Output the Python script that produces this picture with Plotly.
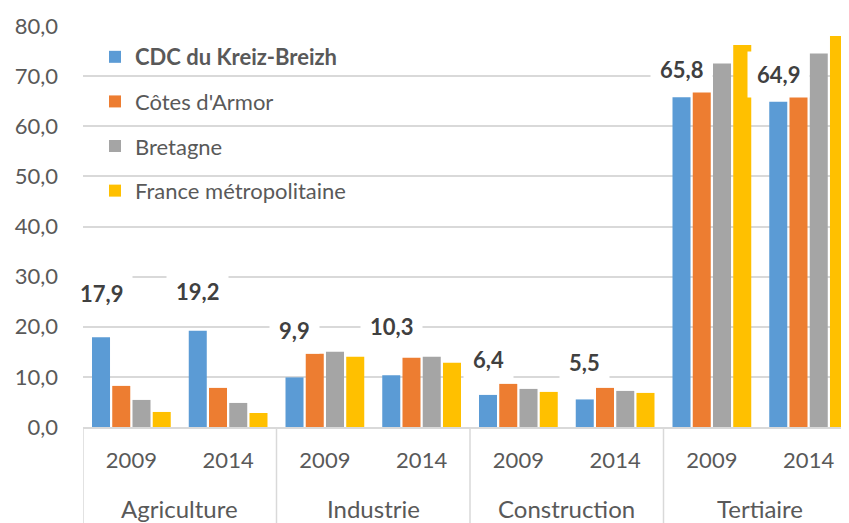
import plotly.graph_objects as go

sectors = ["Agriculture", "Industrie", "Construction", "Tertiaire"]
years = ["2009", "2014"]
series_names = ["CDC du Kreiz-Breizh", "Côtes d'Armor", "Bretagne", "France métropolitaine"]
cdc = [17.9, 19.2, 9.9, 10.3, 6.4, 5.5, 65.8, 64.9]
cotes = [8.2, 7.8, 14.6, 13.8, 8.6, 7.8, 67.3, 66.6]
bretagne = [5.4, 4.8, 15.0, 14.0, 7.6, 7.2, 72.5, 74.5]
france = [3.0, 2.8, 14.0, 12.8, 7.0, 6.8, 76.2, 78.0]
y_ticks = [0, 10, 20, 30, 40, 50, 60, 70, 80]

# styling (not data)
colors = ["#5b9bd5", "#ed7d31", "#a5a5a5", "#ffc000"]
label_lift_px = [44, 39, 47, 49, 35, 37, 28, 27]
FONT = "Lato"
TEXT = "#595959"
GRID = "#d9d9d9"
BARGAP = 0.163

# x categories: one per (sector, year), labelled by the year
x_keys = [f"{s} {y}" for s in sectors for y in years]
x_ticktext = [y for _ in sectors for y in years]
n_years = len(years)

fig = go.Figure()
for i, (name, vals) in enumerate(zip(series_names, [cdc, cotes, bretagne, france])):
    fig.add_trace(go.Bar(
        x=x_keys, y=vals,
        name=f"<b>{name}</b>" if i == 0 else name,
        legendgroup=f"g{i}",
        marker=dict(color=colors[i], line=dict(width=0)),
    ))

n_series = 4
slot = (1 - BARGAP) / n_series
first_offset = -(1 - BARGAP) / 2 + slot / 2

annotations = []
for k, v in enumerate(cdc):
    annotations.append(dict(
        x=k + first_offset, y=v, xref="x", yref="y",
        text="<b>" + f"{v:.1f}".replace(".", ",") + "</b>",
        showarrow=False, yanchor="middle", xanchor="center",
        yshift=label_lift_px[k],
        bgcolor="white", borderpad=9,
        font=dict(family=FONT, size=22, color="#404040"),
    ))

# sector (outer level) labels and dividers of the category axis
shapes = []
for j, s in enumerate(sectors):
    centre = j * n_years + (n_years - 1) / 2
    annotations.append(dict(
        x=centre, y=0, xref="x", yref="paper",
        text=s, showarrow=False, yanchor="middle", xanchor="center",
        yshift=-81,
        font=dict(family=FONT, size=24, color=TEXT),
    ))
for j in range(len(sectors) + 1):
    xb = j * n_years - 0.5
    shapes.append(dict(
        type="line", xref="x", yref="paper",
        x0=xb, x1=xb, y0=0, y1=-0.4,
        line=dict(color=GRID, width=1.5),
    ))

fig.update_layout(
    width=841, height=515,
    margin=dict(l=75, r=0, t=18, b=96),
    paper_bgcolor="white", plot_bgcolor="white",
    separators=", ",
    barmode="group", bargap=BARGAP, bargroupgap=0.11,
    font=dict(family=FONT, size=22, color=TEXT),
    showlegend=True,
    legend=dict(
        x=12 / 766, y=0.975, xanchor="left", yanchor="top",
        bgcolor="rgba(255,255,255,0)",
        font=dict(family=FONT, size=22, color=TEXT),
        tracegroupgap=13, traceorder="grouped",
    ),
    annotations=annotations,
    shapes=shapes,
    xaxis=dict(
        type="category",
        tickvals=x_keys, ticktext=x_ticktext,
        range=[-0.5, -0.5 + 766 / 96.75],
        showline=True, linecolor=GRID, linewidth=1.5,
        ticklabelstandoff=13,
        tickfont=dict(family=FONT, size=22, color=TEXT),
        showgrid=False,
    ),
    yaxis=dict(
        range=[0, 80], tickvals=y_ticks, tickformat=".1f",
        showgrid=True, gridcolor=GRID, gridwidth=1.5,
        zeroline=False, showline=False,
        ticklabelstandoff=24,
        tickfont=dict(family=FONT, size=22, color=TEXT),
    ),
)

fig.write_html("out.html")
